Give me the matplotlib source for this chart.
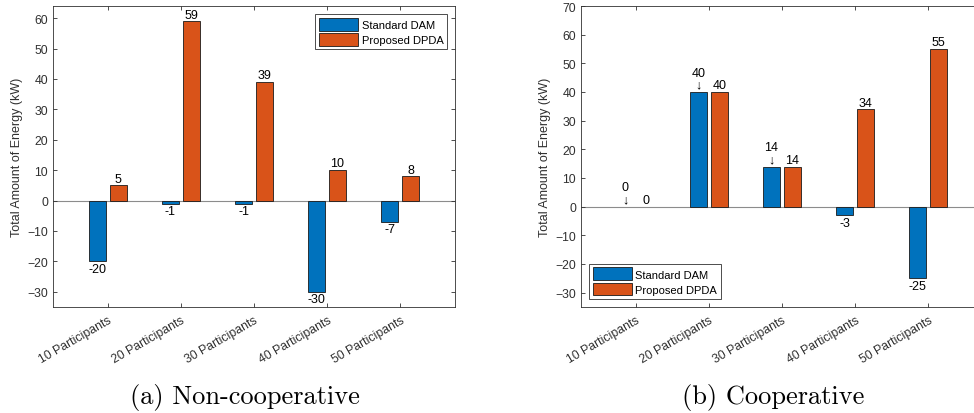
import matplotlib
matplotlib.use("Agg")
import matplotlib.pyplot as plt
import numpy as np
from matplotlib.patches import Patch

plt.rcParams['font.family'] = ['Liberation Sans', 'DejaVu Sans']

categories = ["10 Participants", "20 Participants", "30 Participants",
              "40 Participants", "50 Participants"]
series_names = ["Standard DAM", "Proposed DPDA"]

noncoop_dam = [-20, -1, -1, -30, -7]
noncoop_dpda = [5, 59, 39, 10, 8]

coop_dam = [0, 40, 14, -3, -25]
coop_dpda = [0, 40, 14, 34, 55]
# labels of the DAM bars in the cooperative case that carry a down arrow
coop_dam_arrow = [True, True, True, False, False]

noncoop_yticks = [-30, -20, -10, 0, 10, 20, 30, 40, 50, 60]
coop_yticks = [-30, -20, -10, 0, 10, 20, 30, 40, 50, 60, 70]

BLUE = "#0072BD"
ORANGE = "#D95319"
AXC = "#303030"
EDGE = "#1a1a1a"

W, H = 974, 414
fig = plt.figure(figsize=(W / 100, H / 100), dpi=100)

x = np.arange(1, len(categories) + 1)
off = 0.143
bw = 0.23


def style_axes(ax, ylim, yticks):
    ax.set_xlim(0.25, 5.75)
    ax.set_ylim(*ylim)
    ax.set_yticks(yticks)
    ax.set_xticks(x)
    ax.set_xticklabels(categories, rotation=30, ha="right",
                       rotation_mode="anchor", fontsize=8.8, color=AXC)
    ax.tick_params(axis="both", direction="in", top=True, right=True,
                   length=3, width=0.6, colors=AXC, labelsize=8.8)
    ax.tick_params(axis="x", pad=5)
    for lab in ax.get_yticklabels():
        lab.set_color(AXC)
    for sp in ax.spines.values():
        sp.set_color(AXC)
        sp.set_linewidth(0.6)
    ax.set_ylabel("Total Amount of Energy (kW)", fontsize=9, color=AXC,
                  labelpad=3)
    ax.axhline(0, color="#8c8c8c", lw=0.8, zorder=1)


def draw_bars(ax, xpos, values, color):
    bars = ax.bar(xpos, values, bw, color=color, edgecolor=EDGE,
                  linewidth=0.6, zorder=2)
    for b, v in zip(bars, values):
        if v == 0:
            b.set_linewidth(0)
    return bars


def value_label(ax, xpos, v, arrow=False):
    if arrow:
        ax.annotate(f"{v}\n\u2193", (xpos, v), xytext=(0, 1),
                    textcoords="offset points", ha="center", va="bottom",
                    fontsize=9, color="black", linespacing=1.0)
    elif v >= 0:
        ax.annotate(f"{v}", (xpos, v), xytext=(0, 0.5),
                    textcoords="offset points", ha="center", va="bottom",
                    fontsize=9, color="black")
    else:
        ax.annotate(f"{v}", (xpos, v), xytext=(0, -1),
                    textcoords="offset points", ha="center", va="top",
                    fontsize=9, color="black")


def add_legend(ax, loc, pad):
    handles = [Patch(facecolor=BLUE, edgecolor=EDGE, linewidth=0.6),
               Patch(facecolor=ORANGE, edgecolor=EDGE, linewidth=0.6)]
    leg = ax.legend(handles, series_names, loc=loc, fontsize=8,
                    handlelength=3.5, handleheight=1.4, handletextpad=0.3,
                    borderpad=0.35, labelspacing=0.2, fancybox=False,
                    framealpha=1, edgecolor=AXC, borderaxespad=pad)
    leg.get_frame().set_linewidth(0.6)
    return leg


# (a) Non-cooperative
ax1 = fig.add_axes([53 / W, 1 - 308 / H, 402 / W, 301 / H])
draw_bars(ax1, x - off, noncoop_dam, BLUE)
draw_bars(ax1, x + off, noncoop_dpda, ORANGE)
style_axes(ax1, (-35, 64), noncoop_yticks)
for i in range(len(x)):
    value_label(ax1, x[i] - off, noncoop_dam[i])
    value_label(ax1, x[i] + off, noncoop_dpda[i])
add_legend(ax1, "upper right", 0.7)

# (b) Cooperative
ax2 = fig.add_axes([581 / W, 1 - 308 / H, 402 / W, 301 / H])
draw_bars(ax2, x - off, coop_dam, BLUE)
draw_bars(ax2, x + off, coop_dpda, ORANGE)
style_axes(ax2, (-35, 70), coop_yticks)
for i in range(len(x)):
    value_label(ax2, x[i] - off, coop_dam[i], arrow=coop_dam_arrow[i])
    value_label(ax2, x[i] + off, coop_dpda[i])
add_legend(ax2, "lower left", 0.7)

fig.text(245 / W, 1 - 398 / H, "(a) Non-cooperative", family="cmr10",
         fontsize=19, ha="center", va="center")
fig.text(773 / W, 1 - 398 / H, "(b) Cooperative", family="cmr10",
         fontsize=19, ha="center", va="center")

fig.savefig("out.png", dpi=100)
